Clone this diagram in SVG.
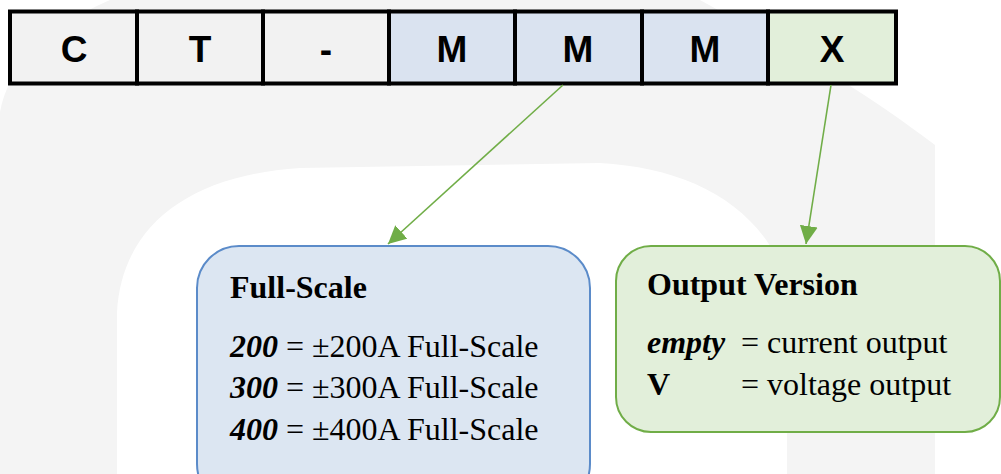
<svg xmlns="http://www.w3.org/2000/svg" width="1001" height="474" viewBox="0 0 1001 474">
<style>
.cell{stroke:#000;stroke-width:4}
.g{fill:#f2f2f2}.b{fill:#dae3f0}.x{fill:#e2efda}
.ct{font-family:"Liberation Sans",Arial,sans-serif;font-weight:bold;font-size:37px;text-anchor:middle;fill:#000}
.t{font-family:"Liberation Serif","Times New Roman",serif;font-size:32px;fill:#000}
.bd{font-weight:bold}.bi{font-weight:bold;font-style:italic}
.conn{stroke:#70ad47;stroke-width:1.6;fill:none}
</style>
<defs>
<marker id="ah" viewBox="0 0 10 10" refX="9" refY="5" markerWidth="10" markerHeight="10" markerUnits="userSpaceOnUse" orient="auto">
<path d="M0,0 L10,5 L0,10 Z" fill="#70ad47"/>
</marker>
<marker id="ah2" viewBox="0 0 10 10" refX="10" refY="5" markerWidth="18" markerHeight="18" markerUnits="userSpaceOnUse" orient="auto">
<path d="M0,0 L10,5 L0,10 Z" fill="#70ad47"/>
</marker>
</defs>
<rect width="1001" height="474" fill="#fff"/>
<path id="watermark" fill="#f4f4f4" fill-rule="evenodd" d="M0,474 L0,112 C8,70 40,30 110,0 L700,0 C780,45 850,80 935,145 L935,474 Z M117,474 L117,312 C122,225 190,175 300,168 L600,163 C690,168 760,205 787,280 L787,474 Z"/>
<g id="code">
<rect class="cell g" x="10" y="11.5" width="127" height="72"/>
<rect class="cell g" x="137" y="11.5" width="126" height="72"/>
<rect class="cell g" x="263" y="11.5" width="126" height="72"/>
<rect class="cell b" x="389" y="11.5" width="126" height="72"/>
<rect class="cell b" x="515" y="11.5" width="127" height="72"/>
<rect class="cell b" x="642" y="11.5" width="126" height="72"/>
<rect class="cell x" x="768" y="11.5" width="128" height="72"/>
<text class="ct" x="74" y="62">C</text>
<text class="ct" x="200" y="62">T</text>
<text class="ct" x="326" y="62">-</text>
<text class="ct" x="452" y="62">M</text>
<text class="ct" x="578" y="62">M</text>
<text class="ct" x="705" y="62">M</text>
<text class="ct" x="832" y="62">X</text>
</g>
<g id="connectors">
<line class="conn" x1="563" y1="85" x2="388" y2="244" marker-end="url(#ah2)"/>
<line class="conn" x1="831" y1="85" x2="806" y2="244" marker-end="url(#ah2)"/>
</g>
<g id="fullscale">
<rect x="197" y="246" width="393" height="260" rx="42" ry="42" fill="#dce6f2" stroke="#5b8bc9" stroke-width="2"/>
<text class="t bd" x="230" y="298">Full-Scale</text>
<text class="t" x="230" y="357"><tspan class="bi">200</tspan> = ±200A Full-Scale</text>
<text class="t" x="230" y="398"><tspan class="bi">300</tspan> = ±300A Full-Scale</text>
<text class="t" x="230" y="440"><tspan class="bi">400</tspan> = ±400A Full-Scale</text>
</g>
<g id="output">
<rect x="616" y="246" width="384" height="186" rx="35" ry="35" fill="#e2efda" stroke="#70ad47" stroke-width="2"/>
<text class="t bd" x="647" y="295">Output Version</text>
<text class="t" x="647" y="353"><tspan class="bi">empty</tspan></text>
<text class="t" x="741" y="353">= current output</text>
<text class="t" x="647" y="395"><tspan class="bd">V</tspan></text>
<text class="t" x="741" y="395">= voltage output</text>
</g>
</svg>
